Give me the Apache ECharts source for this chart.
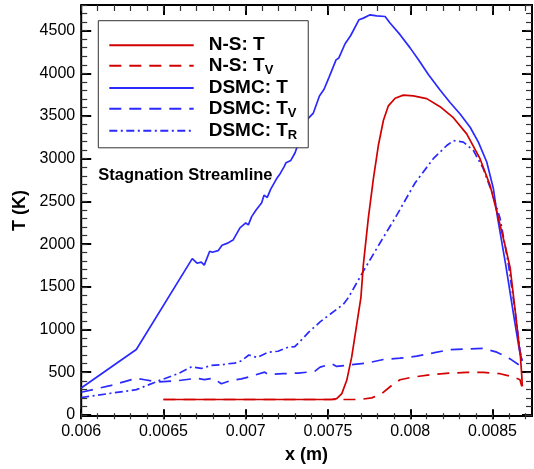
<!DOCTYPE html>
<html><head><meta charset="utf-8">
<script src="https://cdn.jsdelivr.net/npm/echarts@6/dist/echarts.min.js"></script>
<style>html,body{margin:0;padding:0;background:#fff}#c{width:534px;height:469px}</style>
</head><body><div id="c"></div><script>
// ---------- data ----------
const nsT_x = [0.0065,0.00752,0.007553,0.007584,0.007614,0.007644,0.007675,0.0077,0.007715,0.007745,0.007776,0.007806,0.007837,0.007867,0.007908,0.007958,0.008019,0.0081,0.008181,0.008262,0.008343,0.008424,0.008485,0.008526,0.008578,0.008607,0.008645,0.00867,0.008678,0.008681];
const nsT_y = [145,145,156,214,371,644,1034,1347,1737,2283,2752,3142,3440,3610,3700,3736,3728,3695,3600,3470,3279,2986,2673,2362,1950,1700,1074,640,420,300];

const nsTv_x = [0.0065,0.007695,0.007766,0.007827,0.007888,0.007938,0.008019,0.00814,0.008242,0.008343,0.008444,0.008546,0.008627,0.008667,0.008678];
const nsTv_y = [145,145,164,214,312,378,410,441,457,464,464,449,410,378,301];

const dsT_x = [0.006,0.006335,0.006675,0.006704,0.00673,0.006748,0.006781,0.006797,0.006832,0.006856,0.006886,0.006923,0.006965,0.007,0.007016,0.007036,0.007063,0.007097,0.007111,0.007131,0.007152,0.007188,0.007209,0.007233,0.007245,0.007274,0.0073,0.007367,0.007411,0.007448,0.007476,0.007505,0.007549,0.007566,0.007604,0.007638,0.007688,0.007715,0.007756,0.007796,0.007847,0.007877,0.007938,0.007999,0.008049,0.00811,0.008181,0.008242,0.008303,0.008364,0.008414,0.008465,0.008505,0.00853,0.00858,0.008634,0.008664,0.00868];
const dsT_y = [281,734,1807,1753,1765,1730,1894,1882,1901,1964,1987,2026,2170,2228,2205,2303,2381,2467,2556,2529,2627,2752,2810,2889,2939,2966,3056,3435,3525,3727,3806,3940,4152,4175,4343,4440,4625,4645,4684,4672,4664,4587,4450,4294,4157,3981,3798,3650,3513,3357,3182,2947,2635,2300,1737,1074,723,600];

const dsTv_x = [0.006,0.006183,0.006335,0.006386,0.006467,0.006588,0.0067,0.006748,0.006801,0.006852,0.006912,0.006973,0.007024,0.007035,0.007115,0.007136,0.007227,0.007318,0.007379,0.007421,0.007452,0.007523,0.007553,0.007634,0.007735,0.007837,0.007938,0.008039,0.00814,0.008242,0.008343,0.008444,0.008526,0.008607,0.00868];
const dsTv_y = [230,312,395,378,351,367,395,380,395,331,371,388,414,395,468,440,449,457,468,480,527,566,535,554,574,617,632,656,694,734,741,749,703,624,527];

const dsTr_x = [0.006,0.006335,0.006477,0.006588,0.006672,0.00673,0.006791,0.006852,0.006892,0.006933,0.006973,0.007019,0.00707,0.007136,0.007196,0.007257,0.007298,0.00733,0.007383,0.007452,0.007513,0.007593,0.007624,0.007715,0.007816,0.007918,0.008029,0.00814,0.008222,0.008262,0.008323,0.008384,0.008444,0.008495,0.008546,0.008597,0.008637,0.008667,0.00868];
const dsTr_y = [168,261,370,449,531,511,547,554,566,574,600,670,640,703,714,761,769,830,940,1060,1151,1268,1347,1659,1991,2320,2700,2986,3142,3200,3182,3083,2869,2596,2283,1737,1191,723,600];

const xTickVals = [0.006,0.0065,0.007,0.0075,0.008,0.0085];
const xTickLabels = ['0.006','0.0065','0.007','0.0075','0.008','0.0085'];
const yTickVals = [0,500,1000,1500,2000,2500,3000,3500,4000,4500];
const yTickLabels = ['0','500','1000','1500','2000','2500','3000','3500','4000','4500'];

const seriesNames = ['N-S: T','N-S: Tv','DSMC: T','DSMC: Tv','DSMC: TR'];
const legendText = ['{g|}{a|N-S: T}','{g|}{a|N-S: T}{s|V}','{g|}{a|DSMC: T}','{g|}{a|DSMC: T}{s|V}','{g|}{a|DSMC: T}{s|R}'];

// ---------- layout ----------
const FONT = '"Liberation Sans", Arial, Helvetica, sans-serif';
const RED = '#d20000', BLUE = '#2a2aff';
const PL = 81.2, PR = 532, PT = 5, PB = 419.2;
const XMIN = 0.006, XMAX = 0.00874, YMIN = -50, YMAX = 4800;
const xpx = v => PL + (v - XMIN) / (XMAX - XMIN) * (PR - PL);
const ypx = v => PB - (v - YMIN) / (YMAX - YMIN) * (PB - PT);

const mk = (xs, ys) => xs.map((x, i) => [x, ys[i]]);
const lbl = (vals, labels) => v => { const i = vals.findIndex(t => Math.abs(t - v) < 1e-9 * Math.max(1, Math.abs(t))); return i >= 0 ? labels[i] : ''; };

const majorTick = { show: true, inside: true, length: 10, lineStyle: { color: '#000', width: 2 } };
const minorTick = { show: true, inside: true, length: 6, lineStyle: { color: '#333', width: 1.2 } };
const noLine = { show: false };

const grids = [
  { left: PL, top: PT, width: PR - PL, height: PB - PT, show: true, borderColor: '#000', borderWidth: 2, backgroundColor: 'transparent' },
  { left: PL, top: PT, width: xpx(0.0085) - PL, height: PB - PT },
  { left: PL, top: PT, width: xpx(0.0087) - PL, height: PB - PT },
  { left: PL, width: PR - PL, top: ypx(4500), height: ypx(0) - ypx(4500) },
  { left: PL, width: PR - PL, top: ypx(4800), height: ypx(0) - ypx(4800) }
];

const hidden = (g) => ({ type: 'value', gridIndex: g, show: false, min: 0, max: 1 });

const xAxes = [
  { type: 'value', gridIndex: 0, min: XMIN, max: XMAX, axisLine: noLine, axisTick: noLine, axisLabel: noLine, splitLine: noLine,
    name: 'x (m)', nameLocation: 'middle', nameGap: 39,
    nameTextStyle: { fontFamily: FONT, fontSize: 18, fontWeight: 'bold', color: '#000', verticalAlign: 'middle' } },
  { type: 'value', gridIndex: 1, position: 'bottom', min: 0.006, max: 0.0085, interval: 0.0005, axisLine: noLine, splitLine: noLine, axisTick: majorTick,
    axisLabel: { show: true, margin: 4, fontFamily: FONT, fontSize: 16, color: '#000', formatter: lbl(xTickVals, xTickLabels) } },
  { type: 'value', gridIndex: 1, position: 'top', min: 0.006, max: 0.0085, interval: 0.0005, axisLine: noLine, splitLine: noLine, axisTick: majorTick, axisLabel: noLine },
  { type: 'value', gridIndex: 2, position: 'bottom', min: 0.006, max: 0.0087, interval: 0.0001, axisLine: noLine, splitLine: noLine, axisTick: minorTick, axisLabel: noLine },
  { type: 'value', gridIndex: 2, position: 'top', min: 0.006, max: 0.0087, interval: 0.0001, axisLine: noLine, splitLine: noLine, axisTick: minorTick, axisLabel: noLine },
  hidden(3), hidden(4)
];
const yAxes = [
  { type: 'value', gridIndex: 0, min: YMIN, max: YMAX, axisLine: noLine, axisTick: noLine, axisLabel: noLine, splitLine: noLine,
    name: 'T (K)', nameLocation: 'middle', nameGap: 61,
    nameTextStyle: { fontFamily: FONT, fontSize: 18, fontWeight: 'bold', color: '#000', verticalAlign: 'middle' } },
  hidden(1), hidden(2),
  { type: 'value', gridIndex: 3, position: 'left', min: 0, max: 4500, interval: 500, axisLine: noLine, splitLine: noLine, axisTick: majorTick,
    axisLabel: { show: true, margin: 6, fontFamily: FONT, fontSize: 16, color: '#000', formatter: lbl(yTickVals, yTickLabels) } },
  { type: 'value', gridIndex: 3, position: 'right', min: 0, max: 4500, interval: 500, axisLine: noLine, splitLine: noLine, axisTick: majorTick, axisLabel: noLine },
  { type: 'value', gridIndex: 4, position: 'left', min: 0, max: 4800, interval: 100, axisLine: noLine, splitLine: noLine, axisTick: minorTick, axisLabel: noLine },
  { type: 'value', gridIndex: 4, position: 'right', min: 0, max: 4800, interval: 100, axisLine: noLine, splitLine: noLine, axisTick: minorTick, axisLabel: noLine }
];

const line = (name, xs, ys, color, type, z) => ({
  name, type: 'line', xAxisIndex: 0, yAxisIndex: 0, data: mk(xs, ys), symbol: 'none', showSymbol: false,
  animation: false, z: z, silent: true,
  lineStyle: { color, width: 1.7, type }, itemStyle: { color }
});

const option = {
  animation: false,
  backgroundColor: '#fff',
  grid: grids,
  xAxis: xAxes,
  yAxis: yAxes,
  legend: {
    orient: 'vertical', left: 98.3, top: 20.7,
    padding: [15, 11, 6, 10],
    itemWidth: 84.4, itemHeight: 14, itemGap: 1.65,
    backgroundColor: '#fff', borderColor: '#333', borderWidth: 1, borderRadius: 0,
    selectedMode: false, z: 10,
    itemStyle: { opacity: 0, borderWidth: 0 },
    data: seriesNames,
    formatter: name => legendText[seriesNames.indexOf(name)],
    textStyle: {
      fontFamily: FONT, color: '#000',
      rich: {
        g: { width: 10 },
        a: { fontFamily: FONT, fontSize: 19, fontWeight: 'bold', lineHeight: 22, color: '#000' },
        s: { fontFamily: FONT, fontSize: 13, fontWeight: 'bold', lineHeight: 8, verticalAlign: 'bottom', color: '#000' }
      }
    }
  },
  graphic: [{
    type: 'text', left: 98.3, top: 176.7 - 10, z: 20,
    style: { text: 'Stagnation Streamline', fontFamily: FONT, fontSize: 16.5, fontWeight: 'bold', fill: '#000' }
  }],
  series: [
    line('N-S: Tv', nsTv_x, nsTv_y, RED, [12, 8], 2),
    line('N-S: T', nsT_x, nsT_y, RED, 'solid', 3),
    line('DSMC: T', dsT_x, dsT_y, BLUE, 'solid', 2),
    line('DSMC: Tv', dsTv_x, dsTv_y, BLUE, [12, 8], 2),
    line('DSMC: TR', dsTr_x, dsTr_y, BLUE, [8, 3.5, 2, 3.5], 2)
  ]
};
const chart = echarts.init(document.getElementById('c'), null, { renderer: 'canvas' });
chart.setOption(option);
</script></body></html>
